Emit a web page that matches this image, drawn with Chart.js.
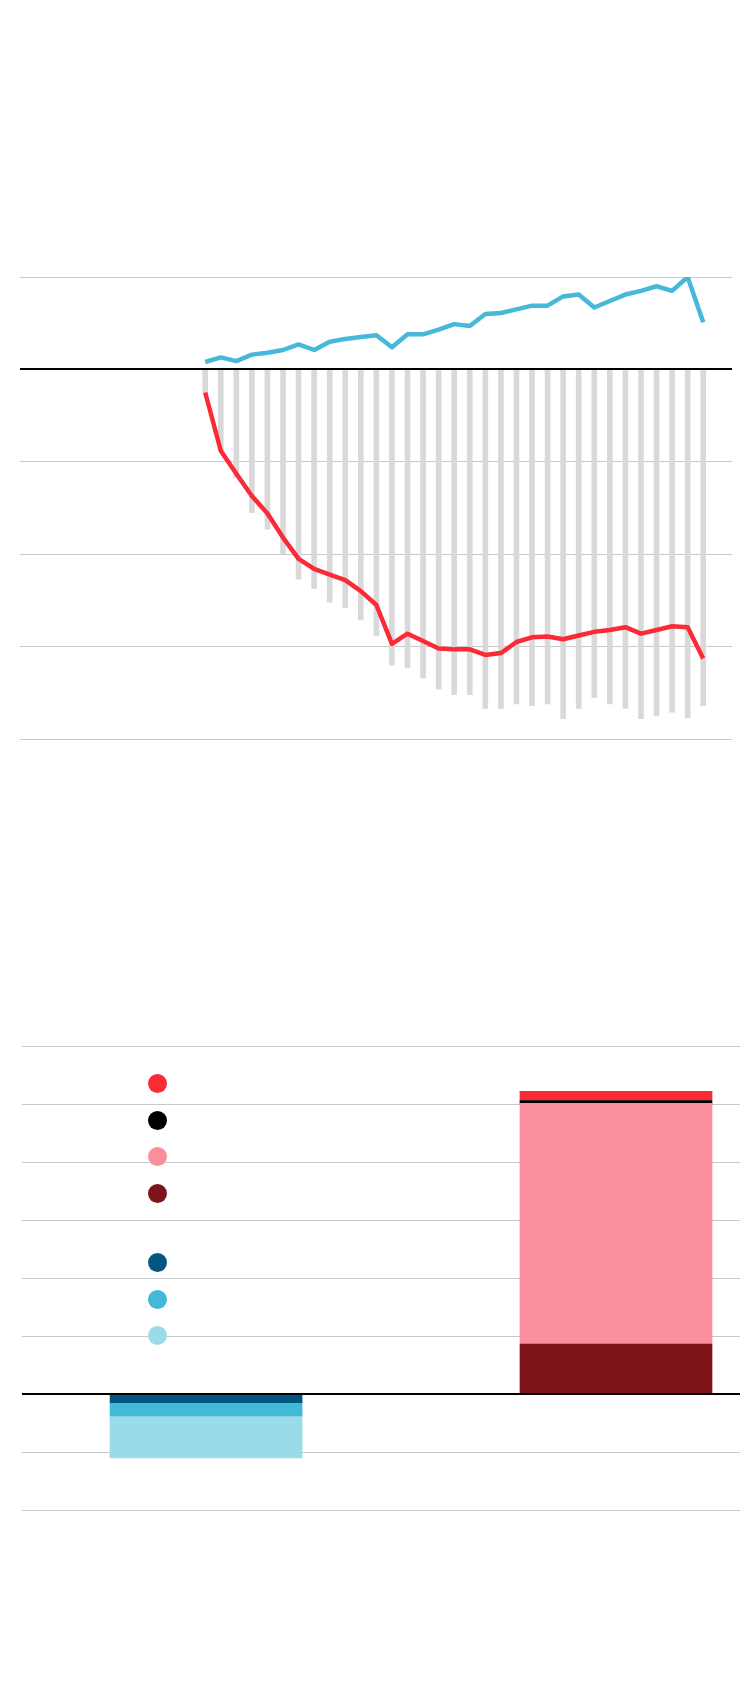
<!DOCTYPE html>
<html>
<head>
<meta charset="utf-8">
<script src="https://cdn.jsdelivr.net/npm/chart.js@4.4.1/dist/chart.umd.min.js"></script>
<style>
    html, body { margin: 0; padding: 0; background: #fff; }
    #page { position: relative; width: 750px; height: 1686px; background: #fff; overflow: hidden; }
    #topChart { position: absolute; left: 0; top: 0; }
    #bottomChart { position: absolute; left: 0; top: 1000px; }
    #legend { position: absolute; left: 148px; top: 1074px; font-family: 'Noto Sans', sans-serif; }
    .legend-group { margin-bottom: 33px; }
    .legend-item { height: 36.5px; display: flex; align-items: flex-start; }
    .legend-dot { width: 19px; height: 19px; border-radius: 50%; }
</style>
</head>
<body>
<div id="page">
    <canvas id="topChart" width="750" height="800"></canvas>
    <canvas id="bottomChart" width="750" height="560"></canvas>
    <div id="legend"></div>
</div>
<script>
// top chart data
const years = [1990, 1991, 1992, 1993, 1994, 1995, 1996, 1997, 1998, 1999, 2000,
    2001, 2002, 2003, 2004, 2005, 2006, 2007, 2008, 2009, 2010, 2011,
    2012, 2013, 2014, 2015, 2016, 2017, 2018, 2019, 2020, 2021, 2022];
const grayBars = [-0.25, -0.88, -1.17, -1.55, -1.73, -2.00, -2.27, -2.37, -2.52, -2.58, -2.71,
    -2.88, -3.20, -3.23, -3.34, -3.46, -3.52, -3.52, -3.67, -3.67, -3.62, -3.64,
    -3.62, -3.78, -3.67, -3.55, -3.62, -3.67, -3.78, -3.75, -3.71, -3.77, -3.64];
const redLine = [-0.25, -0.88, -1.13, -1.37, -1.56, -1.82, -2.05, -2.16, -2.22, -2.28, -2.40,
    -2.55, -2.97, -2.86, -2.94, -3.02, -3.03, -3.03, -3.09, -3.07, -2.95, -2.90,
    -2.89, -2.92, -2.88, -2.84, -2.82, -2.79, -2.86, -2.82, -2.78, -2.79, -3.13];
const blueLine = [0.08, 0.13, 0.09, 0.16, 0.18, 0.21, 0.27, 0.21, 0.30, 0.33, 0.35,
    0.37, 0.24, 0.38, 0.38, 0.43, 0.49, 0.47, 0.60, 0.61, 0.65, 0.69,
    0.69, 0.79, 0.81, 0.67, 0.74, 0.81, 0.85, 0.90, 0.85, 1.00, 0.51];

// bottom chart data
const groups = [1, 3];
const darkRed = [0, 0.86];
const pink = [0, 4.15];
const black = [0, 0.05];
const red = [0, 0.16];
const darkBlue = [-0.15, 0];
const cyan = [-0.23, 0];
const lightBlue = [-0.72, 0];

const points = (xs, ys) => ys.map((v, i) => ({ x: xs[i], y: v }));

const zeroLine = {
    id: 'zeroLine',
    afterDatasetsDraw(chart) {
        const { ctx, chartArea, scales } = chart;
        const y = Math.round(scales.y.getPixelForValue(0));
        ctx.save();
        ctx.strokeStyle = '#000';
        ctx.lineWidth = 2;
        ctx.beginPath();
        ctx.moveTo(chartArea.left, y);
        ctx.lineTo(chartArea.right, y);
        ctx.stroke();
        ctx.restore();
    }
};

const gridColor = c => c.tick.value === 0 ? 'rgba(0,0,0,0)' : '#c9c9c9';

new Chart(document.getElementById('topChart').getContext('2d'), {
    type: 'bar',
    data: {
        datasets: [
            {
                type: 'line',
                data: points(years, blueLine),
                borderColor: '#45b9d7',
                borderWidth: 4.5,
                pointRadius: 0,
                tension: 0,
                borderJoinStyle: 'round',
                order: 0
            },
            {
                type: 'line',
                data: points(years, redLine),
                borderColor: '#fc2a36',
                borderWidth: 4.5,
                pointRadius: 0,
                tension: 0,
                borderJoinStyle: 'round',
                order: 1
            },
            {
                data: points(years, grayBars),
                backgroundColor: '#d9d9d9',
                barThickness: 5,
                borderWidth: 0,
                order: 2
            }
        ]
    },
    options: {
        responsive: false,
        animation: false,
        events: [],
        layout: { padding: { top: 277, bottom: 61, left: 20, right: 18 } },
        plugins: { legend: { display: false }, tooltip: { enabled: false } },
        scales: {
            x: { type: 'linear', min: 1978.1, max: 2023.85, offset: false, display: false },
            y: {
                min: -4,
                max: 1,
                ticks: { stepSize: 1, display: false },
                border: { display: false },
                grid: { color: gridColor, drawTicks: false, lineWidth: 1 }
            }
        }
    },
    plugins: [zeroLine]
});

const stackSeries = [
    { label: 'darkRed', values: darkRed, color: '#7c141a' },
    { label: 'pink', values: pink, color: '#f98f9c' },
    { label: 'black', values: black, color: '#000000' },
    { label: 'red', values: red, color: '#fc2a36' },
    { label: 'darkBlue', values: darkBlue, color: '#04557f' },
    { label: 'cyan', values: cyan, color: '#42b9d6' },
    { label: 'lightBlue', values: lightBlue, color: '#9bdae8' }
];

new Chart(document.getElementById('bottomChart').getContext('2d'), {
    type: 'bar',
    data: {
        datasets: stackSeries.map(s => ({
            label: s.label,
            data: points(groups, s.values),
            backgroundColor: s.color,
            barThickness: 192,
            borderWidth: 0
        }))
    },
    options: {
        responsive: false,
        animation: false,
        events: [],
        layout: { padding: { top: 46, bottom: 50, left: 22, right: 10 } },
        plugins: { legend: { display: false }, tooltip: { enabled: false } },
        scales: {
            x: { type: 'linear', min: 0.102, max: 3.605, offset: false, stacked: true, display: false },
            y: {
                min: -2,
                max: 6,
                stacked: true,
                ticks: { stepSize: 1, display: false },
                border: { display: false },
                grid: { color: gridColor, drawTicks: false, lineWidth: 1 }
            }
        }
    },
    plugins: [zeroLine]
});

// html legend, red group from top of the stack down, then blue group
const legendGroups = [
    stackSeries.slice(0, 4).reverse(),
    stackSeries.slice(4)
];
const legend = document.getElementById('legend');
legendGroups.forEach(group => {
    const g = document.createElement('div');
    g.className = 'legend-group';
    group.forEach(s => {
        const item = document.createElement('div');
        item.className = 'legend-item';
        const dot = document.createElement('span');
        dot.className = 'legend-dot';
        dot.style.background = s.color;
        item.appendChild(dot);
        g.appendChild(item);
    });
    legend.appendChild(g);
});
</script>
</body>
</html>
